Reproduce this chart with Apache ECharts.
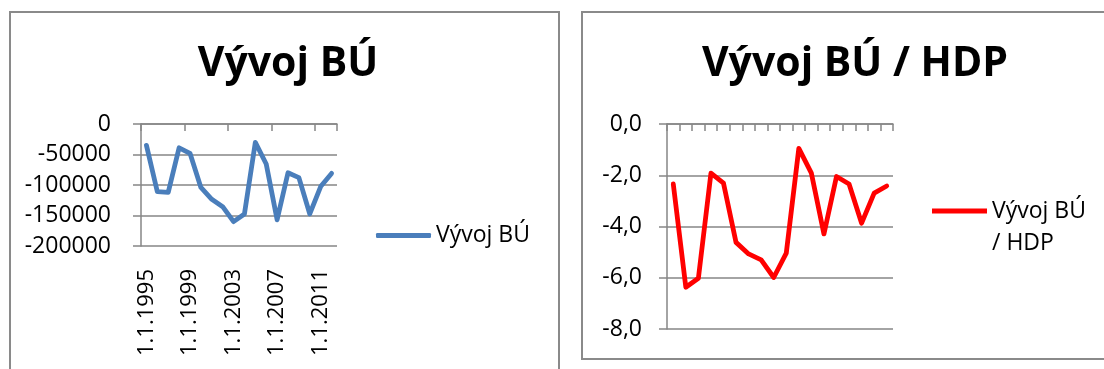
<!DOCTYPE html>
<html>
<head>
<meta charset="utf-8">
<script src="https://cdn.jsdelivr.net/npm/echarts@6/dist/echarts.min.js"></script>
<style>
  html, body { margin: 0; padding: 0; background: #fff; }
  #chart { width: 1104px; height: 369px; }
</style>
</head>
<body>
<div id="chart"></div>
<script>
// Years of the series (first day of each year)
const years = [
  '1.1.1995', '1.1.1996', '1.1.1997', '1.1.1998', '1.1.1999', '1.1.2000',
  '1.1.2001', '1.1.2002', '1.1.2003', '1.1.2004', '1.1.2005', '1.1.2006',
  '1.1.2007', '1.1.2008', '1.1.2009', '1.1.2010', '1.1.2011', '1.1.2012'
];

// Current account balance (BÚ), absolute values
const buValues = [
  -35000, -111000, -112000, -39000, -48000, -104000,
  -123500, -135500, -160000, -147500, -30000, -65500,
  -157000, -80000, -88000, -147500, -102500, -81000
];

// Current account balance as a share of GDP (%)
const hdpValues = [
  -2.34, -6.37, -6.02, -1.92, -2.31, -4.62,
  -5.07, -5.30, -5.99, -5.04, -0.95, -1.92,
  -4.29, -2.05, -2.34, -3.87, -2.70, -2.42
];

// Value-axis tick ranges
const buTicks = { min: -200000, max: 0, step: 50000 };
const hdpTicks = { min: -8, max: 0, step: 2 };

const seriesNames = ['Vývoj BÚ', 'Vývoj BÚ / HDP'];
const titles = ['Vývoj BÚ', 'Vývoj BÚ / HDP'];

const FONT = '"Open Sans", "Noto Sans", sans-serif';
const GRAY = '#868686';
const BLUE = '#4a7ebb';
const RED = '#ff0000';

// Legend key for the wrapped two-line entry: the bar sits at the top of the
// icon box so that it lines up with the first line of the label.
const TOP_BAR_ICON = 'path://M0,0L55,0L55,5L0,5Z M27,37L27,37Z';

const chart = echarts.init(document.getElementById('chart'), null, { renderer: 'canvas' });

function valueAxis(gridIndex, ticks, margin, formatter) {
  return {
    gridIndex,
    type: 'value',
    min: ticks.min,
    max: ticks.max,
    interval: ticks.step,
    axisLine: { show: true, lineStyle: { color: GRAY, width: 1.5 } },
    axisTick: { show: true, length: 8, lineStyle: { color: GRAY, width: 1.5 } },
    splitLine: { show: true, lineStyle: { color: GRAY, width: 1.5 } },
    axisLabel: { fontSize: 23, color: '#000', fontFamily: FONT, margin, formatter }
  };
}

chart.setOption({
  animation: false,
  textStyle: { fontFamily: FONT },
  graphic: [
    { type: 'rect', shape: { x: 10, y: 12, width: 549, height: 420 },
      style: { fill: null, stroke: '#8a8a8a', lineWidth: 2 } },
    { type: 'rect', shape: { x: 582, y: 12, width: 600, height: 347 },
      style: { fill: null, stroke: '#8a8a8a', lineWidth: 2 } }
  ],
  title: [
    { text: titles[0], left: 283, top: 39, textAlign: 'center',
      textStyle: { fontSize: 41, fontWeight: 'bold', color: '#000', fontFamily: FONT } },
    { text: titles[1], left: 850, top: 39, textAlign: 'center',
      textStyle: { fontSize: 41, fontWeight: 'bold', color: '#000', fontFamily: FONT } }
  ],
  legend: [
    { data: [seriesNames[0]], left: 376, top: 224, padding: 0,
      icon: 'roundRect', itemWidth: 55, itemHeight: 5,
      textStyle: { fontSize: 23, color: '#000', fontFamily: FONT } },
    { data: [seriesNames[1]], left: 932, top: 195, padding: 0,
      icon: TOP_BAR_ICON, itemWidth: 55, itemHeight: 37,
      formatter: (name) => name.replace(' / ', '\n/ '),
      textStyle: { fontSize: 23, lineHeight: 32, color: '#000', fontFamily: FONT } }
  ],
  grid: [
    { left: 141, top: 124, width: 196, height: 122 },
    { left: 667, top: 124, width: 226, height: 205 }
  ],
  xAxis: [
    { // axis line and ticks along the zero line (top)
      gridIndex: 0, type: 'category', data: years, position: 'top', boundaryGap: true,
      axisLine: { show: true, onZero: false, lineStyle: { color: GRAY, width: 1.5 } },
      axisTick: { show: true, inside: true, length: 7, interval: 3, lineStyle: { color: GRAY, width: 1.5 } },
      axisLabel: { show: false }, splitLine: { show: false }
    },
    { // rotated date labels below the plot
      gridIndex: 0, type: 'category', data: years, position: 'bottom', boundaryGap: true,
      axisLine: { show: false, onZero: false }, axisTick: { show: false },
      axisLabel: { show: true, rotate: 90, interval: 3, margin: 23, fontSize: 22, color: '#000', fontFamily: FONT },
      splitLine: { show: false }
    },
    {
      gridIndex: 1, type: 'category', data: years, position: 'top', boundaryGap: true,
      axisLine: { show: true, onZero: false, lineStyle: { color: GRAY, width: 1.5 } },
      axisTick: { show: true, inside: true, length: 7, interval: 0, lineStyle: { color: GRAY, width: 1.5 } },
      axisLabel: { show: false }, splitLine: { show: false }
    }
  ],
  yAxis: [
    valueAxis(0, buTicks, 30, (v) => String(v)),
    valueAxis(1, hdpTicks, 25, (v) => v.toFixed(1).replace('.', ','))
  ],
  series: [
    { type: 'line', name: seriesNames[0], xAxisIndex: 0, yAxisIndex: 0, data: buValues,
      symbol: 'none', color: BLUE,
      lineStyle: { width: 4.8, color: BLUE, join: 'round', cap: 'round' } },
    { type: 'line', name: seriesNames[1], xAxisIndex: 2, yAxisIndex: 1, data: hdpValues,
      symbol: 'none', color: RED,
      lineStyle: { width: 4.8, color: RED, join: 'round', cap: 'round' } }
  ]
});
</script>
</body>
</html>
